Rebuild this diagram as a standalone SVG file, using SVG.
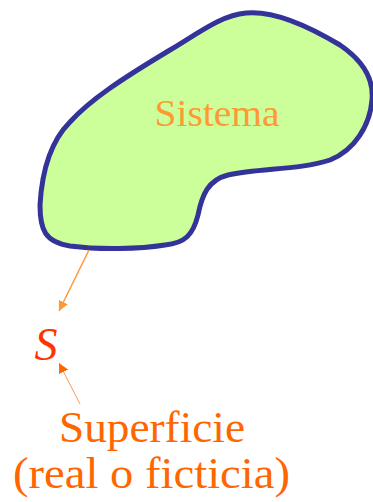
<svg xmlns="http://www.w3.org/2000/svg" width="373" height="502" viewBox="0 0 373 502">
  <style>
    .blob { fill: #ccff99; stroke: #333399; stroke-width: 5; stroke-linejoin: round; }
    .c1 { stroke: #ff9933; stroke-width: 1.5; fill: none; }
    .c2 { stroke: #ff9955; stroke-width: 1; fill: none; }
  </style>
  <defs>
    <marker id="ahA" viewBox="0 0 10 10" refX="10" refY="5" markerWidth="10" markerHeight="10" markerUnits="userSpaceOnUse" orient="auto">
      <path d="M0,0 L10,5 L0,10 Z" fill="#ff9933"/>
    </marker>
    <marker id="ahB" viewBox="0 0 10 10" refX="10" refY="5" markerWidth="10" markerHeight="10" markerUnits="userSpaceOnUse" orient="auto">
      <path d="M0,0 L10,5 L0,10 Z" fill="#ff6600"/>
    </marker>
  </defs>

  <!-- system region: closed freeform outline with its label -->
  <g id="sistema">
    <path class="blob" d="M246,13 C275,10 310,27 340,45 C362,60 374,78 372,100 C370,125 355,150 330,160 C300,170 260,168 228,175 C208,180 202,195 198,215 C193,235 185,243 165,245 C140,249 100,250 70,246 C45,242 40,230 40,205 C42,170 52,140 70,122 C90,100 120,80 170,50 C200,32 222,15 246,13 Z"/>
    <text x="217" y="126" style="font-family: Tinos, 'Liberation Serif', 'DejaVu Serif', serif; font-size: 38px; fill: #ff9933; text-anchor: middle" textLength="125" lengthAdjust="spacingAndGlyphs">Sistema</text>
  </g>

  <g id="s-label">
    <text x="46" y="360" style="font-family: Tinos, 'Liberation Serif', 'DejaVu Serif', serif; font-size: 46px; font-style: italic; fill: #ff3300; text-anchor: middle">S</text>
  </g>

  <g id="superficie">
    <text x="152" y="442" style="font-family: Tinos, 'Liberation Serif', 'DejaVu Serif', serif; font-size: 44px; fill: #ff6600; text-anchor: middle" textLength="186" lengthAdjust="spacingAndGlyphs">Superficie</text>
    <text x="151.5" y="488" style="font-family: Tinos, 'Liberation Serif', 'DejaVu Serif', serif; font-size: 44px; fill: #ff6600; text-anchor: middle" textLength="277" lengthAdjust="spacingAndGlyphs">(real o ficticia)</text>
  </g>

  <g id="connectors">
    <line class="c1" x1="89" y1="250" x2="59" y2="311" marker-end="url(#ahA)"/>
    <line class="c2" x1="80" y1="404" x2="59" y2="363" marker-end="url(#ahB)"/>
  </g>
</svg>
